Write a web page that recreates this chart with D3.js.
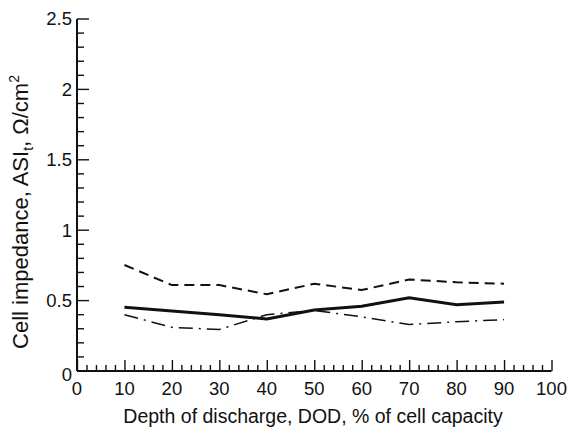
<!DOCTYPE html>
<html>
<head>
<meta charset="utf-8">
<script src="https://cdn.jsdelivr.net/npm/d3@7"></script>
<style>
  body { margin: 0; background: #fff; }
  text { font-family: "Liberation Sans", Arial, sans-serif; fill: #111; }
</style>
</head>
<body>
<div id="chart"></div>
<script>
// profondeur de décharge (%)
const dod = [10, 20, 30, 40, 50, 60, 70, 80, 90];
// impédance, trait plein
const solidVals = [0.452, 0.426, 0.40, 0.37, 0.433, 0.46, 0.52, 0.47, 0.49];
// impédance, tirets
const dashVals = [0.753, 0.61, 0.61, 0.545, 0.62, 0.575, 0.65, 0.63, 0.62];
// impédance, tiret-point
const dashDotVals = [0.40, 0.31, 0.295, 0.40, 0.43, 0.385, 0.33, 0.35, 0.365];

const xTicks = [0, 10, 20, 30, 40, 50, 60, 70, 80, 90, 100];
const yTicks = [0, 0.5, 1, 1.5, 2, 2.5];

const width = 570, height = 427;
const x0 = 77, x1 = 551.5, y0 = 371, y1 = 19;

const svg = d3.select("#chart").append("svg")
  .attr("width", width).attr("height", height);

const x = d3.scaleLinear().domain([0, 100]).range([x0, x1]);
const y = d3.scaleLinear().domain([0, 2.5]).range([y0, y1]);

// axe X : ticks vers l'intérieur
const gx = svg.append("g").attr("transform", `translate(0, ${y0})`);
gx.call(d3.axisBottom(x).tickValues(d3.range(0, 101, 2)).tickSize(0).tickFormat(""));
gx.select(".domain").remove();
gx.append("line").attr("x1", x0).attr("x2", x1).attr("stroke", "#111").attr("stroke-width", 2);
gx.selectAll(".tick line").remove();
gx.selectAll(".tick").append("line")
  .attr("y1", 0)
  .attr("y2", d => d % 10 === 0 ? -11 : -6)
  .attr("stroke", "#111").attr("stroke-width", 1.4);
gx.selectAll(".xlab").data(xTicks).join("text")
  .attr("x", d => x(d)).attr("y", 24)
  .attr("text-anchor", "middle").attr("font-size", 18.5)
  .text(d => d);

// axe Y
const gy = svg.append("g").attr("transform", `translate(${x0}, 0)`);
gy.append("line").attr("y1", y0).attr("y2", y1).attr("stroke", "#111").attr("stroke-width", 2);
gy.selectAll(".ytick").data(d3.range(0, 26)).join("line")
  .attr("x1", 0)
  .attr("x2", d => d % 5 === 0 ? 12 : 7)
  .attr("y1", d => y(d / 10)).attr("y2", d => y(d / 10))
  .attr("stroke", "#111").attr("stroke-width", 1.4);
gy.selectAll(".ylab").data(yTicks).join("text")
  .attr("x", -5).attr("y", d => y(d)).attr("dy", d => d === 0 ? "0.55em" : "0.35em")
  .attr("text-anchor", "end").attr("font-size", 18.5)
  .text(d => d);

// titres des axes
svg.append("text")
  .attr("x", 313).attr("y", 423)
  .attr("text-anchor", "middle").attr("font-size", 19.5)
  .text("Depth of discharge, DOD, % of cell capacity");

const yl = svg.append("text")
  .attr("transform", `translate(28, 212) rotate(-90)`)
  .attr("text-anchor", "middle").attr("font-size", 22);
yl.append("tspan").text("Cell impedance, ASI");
yl.append("tspan").attr("font-size", 14).attr("dy", 5).text("t");
yl.append("tspan").attr("dy", -5).text(", Ω/cm");
yl.append("tspan").attr("font-size", 14).attr("dy", -9).text("2");

// courbes
const line = d3.line().x((d, i) => x(dod[i])).y(d => y(d));
const series = [
  { vals: dashVals, w: 2, dash: "10,6" },
  { vals: dashDotVals, w: 1.5, dash: "14,6,2,6" },
  { vals: solidVals, w: 3, dash: null }
];
svg.selectAll(".serie").data(series).join("path")
  .attr("d", d => line(d.vals))
  .attr("fill", "none").attr("stroke", "#111")
  .attr("stroke-width", d => d.w)
  .attr("stroke-dasharray", d => d.dash);
</script>
</body>
</html>
